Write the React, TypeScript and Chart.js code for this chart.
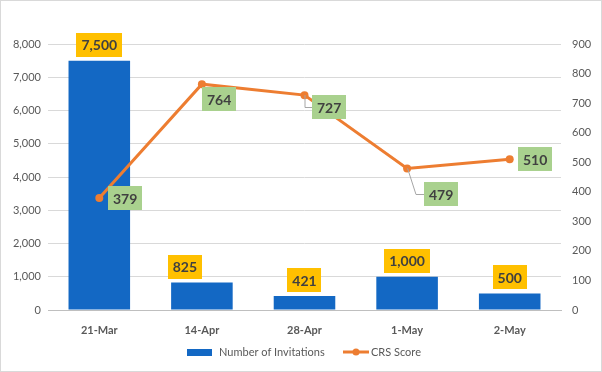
import React, { useEffect, useRef } from "react";
import { Chart, registerables } from "chart.js";

Chart.register(...registerables);

const categories = ["21-Mar", "14-Apr", "28-Apr", "1-May", "2-May"];
const invitations = [7500, 825, 421, 1000, 500];
const crsScores = [379, 764, 727, 479, 510];
const leftTicks = [0, 1000, 2000, 3000, 4000, 5000, 6000, 7000, 8000];
const rightTicks = [0, 100, 200, 300, 400, 500, 600, 700, 800, 900];

const BAR_COLOR = "#1368C4";
const LINE_COLOR = "#ED7D31";
const BAR_LABEL_BG = "#FFC000";
const LINE_LABEL_BG = "#A9D18E";
const LABEL_TEXT = "#404040";
const AXIS_TEXT = "#595959";
const FONT = "Lato, 'Open Sans', sans-serif";

// placement of CRS labels relative to point: [dx to box left, dy to box top, leader]
const crsPlacement: { dx: number; dy: number; leader: boolean }[] = [
  { dx: 9, dy: -12, leader: false },
  { dx: 0, dy: 3, leader: false },
  { dx: 7, dy: 0, leader: true },
  { dx: 17, dy: 14, leader: true },
  { dx: 8, dy: -12, leader: false },
];
const barLabelShift = [0, -17, 0, 0, 0];

const fmt = (v: number) => v.toLocaleString("en-US");

const labelsPlugin = {
  id: "customLabels",
  afterDatasetsDraw(chart: any) {
    const ctx = chart.ctx as CanvasRenderingContext2D;
    ctx.save();
    ctx.font = `bold 14px ${FONT}`;
    ctx.textBaseline = "middle";
    ctx.textAlign = "center";
    const boxH = 24;
    const barMeta = chart.getDatasetMeta(1);
    barMeta.data.forEach((el: any, i: number) => {
      const text = fmt(invitations[i]);
      const w = ctx.measureText(text).width + 10;
      const cx = el.x + barLabelShift[i];
      const bottom = el.y - 4;
      ctx.fillStyle = BAR_LABEL_BG;
      ctx.fillRect(Math.round(cx - w / 2), Math.round(bottom - boxH), Math.round(w), boxH);
      ctx.fillStyle = LABEL_TEXT;
      ctx.fillText(text, cx, bottom - boxH / 2 + 1);
    });
    const lineMeta = chart.getDatasetMeta(0);
    lineMeta.data.forEach((el: any, i: number) => {
      const text = fmt(crsScores[i]);
      const w = ctx.measureText(text).width + 10;
      const p = crsPlacement[i];
      const left = Math.round(el.x + p.dx);
      const top = Math.round(el.y + p.dy);
      if (p.leader) {
        ctx.strokeStyle = "#A6A6A6";
        ctx.lineWidth = 1;
        ctx.beginPath();
        const midY = top + boxH / 2 + 0.5;
        ctx.moveTo(el.x + 0.5, el.y);
        if (p.dx > 10) {
          ctx.lineTo(left - 8, midY);
        } else {
          ctx.lineTo(el.x + 0.5, midY);
        }
        ctx.lineTo(left, midY);
        ctx.stroke();
      }
      ctx.fillStyle = LINE_LABEL_BG;
      ctx.fillRect(left, top, Math.round(w), boxH);
      ctx.fillStyle = LABEL_TEXT;
      ctx.fillText(text, left + w / 2, top + boxH / 2 + 1);
    });
    ctx.restore();
  },
  afterDraw(chart: any) {
    const ctx = chart.ctx as CanvasRenderingContext2D;
    ctx.save();
    ctx.font = `11px ${FONT}`;
    ctx.textBaseline = "middle";
    ctx.textAlign = "left";
    const y = 351;
    ctx.fillStyle = BAR_COLOR;
    ctx.fillRect(186, 348, 25, 7);
    ctx.fillStyle = AXIS_TEXT;
    ctx.fillText("Number of Invitations", 218, y);
    ctx.strokeStyle = LINE_COLOR;
    ctx.lineWidth = 3;
    ctx.beginPath();
    ctx.moveTo(342, y);
    ctx.lineTo(368, y);
    ctx.stroke();
    ctx.fillStyle = LINE_COLOR;
    ctx.beginPath();
    ctx.arc(355, y, 3.5, 0, Math.PI * 2);
    ctx.fill();
    ctx.fillStyle = AXIS_TEXT;
    ctx.fillText("CRS Score", 370, y);
    ctx.restore();
  },
};

export default function App() {
  const ref = useRef<HTMLCanvasElement>(null);
  useEffect(() => {
    if (!ref.current) return;
    const chart = new Chart(ref.current, {
      type: "bar",
      data: {
        labels: categories,
        datasets: [
          {
            type: "line",
            label: "CRS Score",
            data: crsScores,
            yAxisID: "y1",
            borderColor: LINE_COLOR,
            backgroundColor: LINE_COLOR,
            borderWidth: 3,
            pointRadius: 4,
            pointBackgroundColor: LINE_COLOR,
            pointBorderWidth: 0,
            tension: 0,
            order: 0,
          } as any,
          {
            type: "bar",
            label: "Number of Invitations",
            data: invitations,
            yAxisID: "y",
            backgroundColor: BAR_COLOR,
            categoryPercentage: 1,
            barPercentage: 0.6,
            order: 1,
          },
        ],
      },
      options: {
        responsive: false,
        animation: false,
        layout: { padding: { top: 43, bottom: 31, left: 0, right: 0 } },
        plugins: { legend: { display: false }, tooltip: { enabled: false } },
        scales: {
          x: {
            grid: { display: false },
            border: { display: true, color: "#BFBFBF", width: 1 },
            ticks: { color: AXIS_TEXT, font: { family: FONT, size: 11, weight: "bold" }, padding: 6 },
            afterFit: (s: any) => { s.height = 30; },
          },
          y: {
            position: "left",
            min: 0,
            max: 8000,
            afterBuildTicks: (s: any) => { s.ticks = leftTicks.map((v) => ({ value: v })); },
            ticks: { color: AXIS_TEXT, font: { family: FONT, size: 11 }, padding: 7, callback: (v: any) => fmt(Number(v)) },
            grid: { color: "#D9D9D9", drawTicks: false },
            border: { display: false },
            afterFit: (s: any) => { s.width = 47; },
          },
          y1: {
            position: "right",
            min: 0,
            max: 900,
            afterBuildTicks: (s: any) => { s.ticks = rightTicks.map((v) => ({ value: v })); },
            ticks: { color: AXIS_TEXT, font: { family: FONT, size: 11 }, padding: 11 },
            grid: { display: false, drawTicks: false },
            border: { display: false },
            afterFit: (s: any) => { s.width = 40; },
          },
        },
      },
      plugins: [labelsPlugin],
    });
    return () => chart.destroy();
  }, []);
  return (
    <div style={{ position: "fixed", left: 0, top: 0, width: 602, height: 372, background: "#fff", boxSizing: "border-box", border: "1px solid #D9D9D9" }}>
      <canvas ref={ref} width={600} height={370} style={{ display: "block" }} />
    </div>
  );
}
